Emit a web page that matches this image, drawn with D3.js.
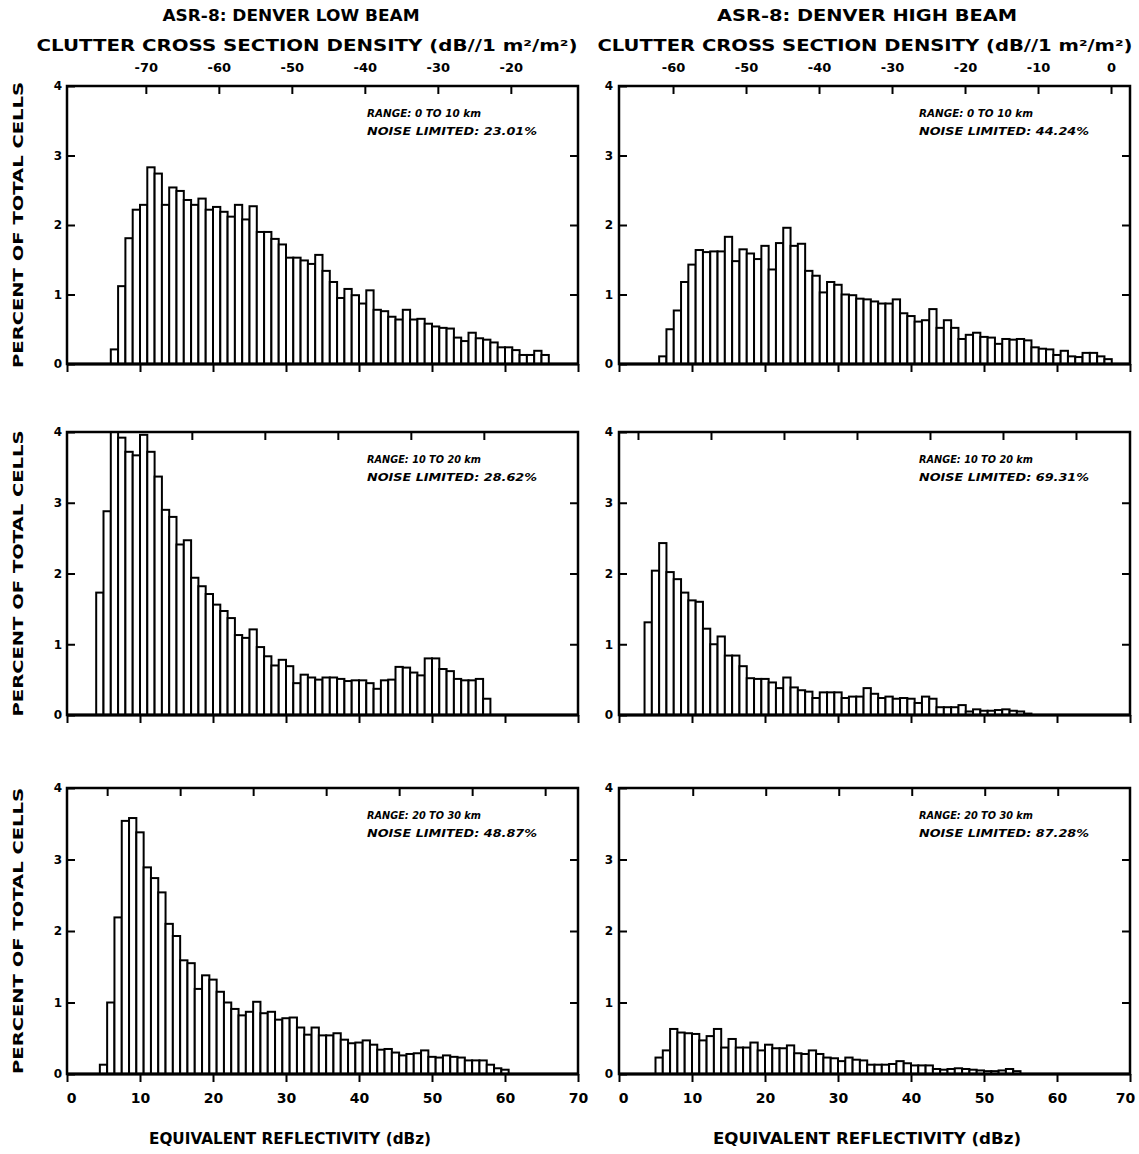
<!DOCTYPE html>
<html><head><meta charset="utf-8">
<script src="https://cdn.jsdelivr.net/npm/d3@7"></script>
<style>
body{margin:0;background:#fff}
text{font-family:"DejaVu Sans",sans-serif;font-weight:bold;fill:#000}
</style>
</head><body>
<svg id="c" width="1139" height="1154"></svg>
<script>
// ---------- DATA (percent of total cells per 1-dB bin of equivalent reflectivity, dBz) ----------
// Low beam
const low0to10 = [0.21,1.12,1.81,2.22,2.29,2.83,2.74,2.29,2.54,2.49,2.36,2.29,2.38,2.22,2.26,2.19,2.12,2.29,2.08,2.27,
  1.90,1.90,1.80,1.72,1.53,1.53,1.49,1.44,1.57,1.34,1.18,0.95,1.08,0.99,0.87,1.06,0.78,0.76,0.68,0.64,
  0.78,0.64,0.65,0.58,0.54,0.52,0.51,0.38,0.33,0.45,0.37,0.35,0.31,0.24,0.24,0.20,0.13,0.13,0.19,0.13];
const low10to20 = [1.73,2.88,4.00,3.92,3.72,3.67,3.96,3.72,3.37,2.90,2.80,2.41,2.47,1.94,1.82,1.71,1.56,1.47,1.37,1.13,
  1.09,1.21,0.96,0.83,0.70,0.78,0.69,0.45,0.57,0.53,0.50,0.53,0.53,0.51,0.48,0.49,0.49,0.45,0.37,0.49,
  0.50,0.68,0.67,0.60,0.56,0.80,0.80,0.65,0.62,0.51,0.49,0.49,0.51,0.23];
const low20to30 = [0.13,1.00,2.19,3.54,3.58,3.38,2.89,2.74,2.54,2.10,1.93,1.59,1.55,1.19,1.38,1.32,1.15,1.00,0.91,0.82,
  0.87,1.01,0.85,0.87,0.76,0.78,0.79,0.65,0.55,0.65,0.54,0.54,0.57,0.48,0.43,0.44,0.47,0.41,0.34,0.35,
  0.30,0.26,0.28,0.29,0.33,0.24,0.23,0.26,0.24,0.23,0.19,0.19,0.19,0.13,0.08,0.06];
// High beam
const high0to10 = [0.11,0.50,0.77,1.18,1.43,1.64,1.61,1.62,1.62,1.83,1.48,1.65,1.59,1.51,1.70,1.36,1.74,1.96,1.70,1.73,
  1.34,1.27,1.03,1.18,1.14,1.00,0.99,0.94,0.93,0.90,0.87,0.87,0.93,0.73,0.69,0.61,0.63,0.79,0.52,0.63,
  0.52,0.36,0.42,0.45,0.39,0.38,0.29,0.36,0.35,0.36,0.34,0.24,0.22,0.21,0.13,0.19,0.11,0.10,0.16,0.16,0.11,0.07];
const high10to20 = [1.31,2.04,2.43,2.02,1.92,1.73,1.62,1.60,1.22,1.00,1.11,0.84,0.84,0.69,0.52,0.51,0.51,0.46,0.38,0.53,
  0.39,0.35,0.33,0.24,0.32,0.32,0.32,0.24,0.26,0.26,0.38,0.30,0.24,0.26,0.23,0.24,0.23,0.17,0.26,0.23,
  0.11,0.11,0.11,0.14,0.05,0.08,0.06,0.06,0.07,0.08,0.06,0.05,0.02];
const high20to30 = [0.23,0.33,0.63,0.58,0.57,0.56,0.47,0.53,0.63,0.37,0.49,0.37,0.37,0.44,0.33,0.41,0.36,0.36,0.40,0.29,
  0.28,0.33,0.28,0.23,0.22,0.18,0.23,0.20,0.19,0.13,0.13,0.13,0.14,0.18,0.15,0.12,0.12,0.12,0.07,0.06,
  0.07,0.08,0.07,0.06,0.05,0.04,0.04,0.05,0.07,0.04];

// first bin edge (dBz) of each histogram
const lowBinStart  = [6, 4, 4.5];
const highBinStart = [5.5, 3.5, 5];

const rangeLabels = ["RANGE: 0 TO 10 km", "RANGE: 10 TO 20 km", "RANGE: 20 TO 30 km"];
const lowNoise  = ["NOISE LIMITED: 23.01%", "NOISE LIMITED: 28.62%", "NOISE LIMITED: 48.87%"];
const highNoise = ["NOISE LIMITED: 44.24%", "NOISE LIMITED: 69.31%", "NOISE LIMITED: 87.28%"];

// clutter cross-section density axis: sigma = dBz - offset
const lowSigmaOffset  = [80.8, 87.1, 95.5];
const highSigmaOffset = [67.4, 82.6, 90.1];
const lowSigmaTicks  = [[-70,-60,-50,-40,-30,-20], [-70,-60,-50,-40,-30], [-90,-80,-70,-60,-50,-40,-30]];
const highSigmaTicks = [[-60,-50,-40,-30,-20,-10,0], [-80,-70,-60,-50,-40,-30,-20], [-80,-70,-60,-50,-40,-30]];

const dbzTicks = [0,10,20,30,40,50,60,70];
const pctTicks = [0,1,2,3,4];
const columnTitles = ["ASR-8: DENVER LOW BEAM", "ASR-8: DENVER HIGH BEAM"];
const sigmaTitle = "CLUTTER CROSS SECTION DENSITY (dB//1 m\u00B2/m\u00B2)";
const yTitle = "PERCENT OF TOTAL CELLS";
const xTitle = "EQUIVALENT REFLECTIVITY (dBz)";

// ---------- LAYOUT ----------
const colX = [[67, 578], [619, 1130]];
const rowY = [[364, 86], [715, 432], [1074, 788]];

const panels = [];
[low0to10, low10to20, low20to30].forEach((v, r) => panels.push({values: v, start: lowBinStart[r], col: 0, row: r,
  range: rangeLabels[r], noise: lowNoise[r], off: lowSigmaOffset[r], sticks: lowSigmaTicks[r]}));
[high0to10, high10to20, high20to30].forEach((v, r) => panels.push({values: v, start: highBinStart[r], col: 1, row: r,
  range: rangeLabels[r], noise: highNoise[r], off: highSigmaOffset[r], sticks: highSigmaTicks[r]}));

const svg = d3.select("#c");

panels.forEach(p => {
  const x = d3.scaleLinear().domain([0, 70]).range(colX[p.col]);
  const y = d3.scaleLinear().domain([0, 4]).range(rowY[p.row]).clamp(true);
  const s = d3.scaleLinear().domain([-p.off, 70 - p.off]).range(colX[p.col]);
  const g = svg.append("g");

  // bars
  g.selectAll("rect.bar").data(p.values).join("rect").attr("class", "bar")
    .attr("x", (d, i) => x(p.start + i))
    .attr("width", (d, i) => x(p.start + i + 1) - x(p.start + i))
    .attr("y", d => y(d))
    .attr("height", d => y(0) - y(d))
    .attr("fill", "#fff").attr("stroke", "#000").attr("stroke-width", 2);

  // frame
  g.append("rect")
    .attr("x", x(0)).attr("y", y(4)).attr("width", x(70) - x(0)).attr("height", y(0) - y(4))
    .attr("fill", "none").attr("stroke", "#000").attr("stroke-width", 2.5);
  g.append("line").attr("x1", x(0)).attr("x2", x(70)).attr("y1", y(0)).attr("y2", y(0))
    .attr("stroke", "#000").attr("stroke-width", 3);

  const style = sel => {
    sel.select(".domain").remove();
    sel.selectAll(".tick line").attr("stroke", "#000").attr("stroke-width", 2);
    sel.selectAll("text").attr("fill", "#000");
  };

  // left & right percent axes (inward ticks)
  g.append("g").attr("transform", `translate(${x(0)},0)`)
    .call(d3.axisLeft(y).tickValues(pctTicks).tickSize(-8).tickPadding(p.col ? 6 : 5).tickFormat(d3.format("d")))
    .call(style).selectAll("text").attr("font-size", 12).attr("font-family", "DejaVu Sans").attr("font-weight", "bold");
  g.append("g").attr("transform", `translate(${x(70)},0)`)
    .call(d3.axisRight(y).tickValues(pctTicks.slice(1, 4)).tickSize(-8).tickFormat(""))
    .call(style);

  // bottom dBz axis (outward ticks), labels only on the last row
  const bx = g.append("g").attr("transform", `translate(0,${y(0)})`)
    .call(d3.axisBottom(x).tickValues(dbzTicks).tickSize(8).tickPadding(11)
      .tickFormat(p.row === 2 ? d3.format("d") : ""))
    .call(style);
  bx.selectAll("text").attr("font-size", 14).attr("font-family", "DejaVu Sans").attr("font-weight", "bold")
    .attr("dx", d => d === 0 ? 4 : (d === 70 && p.col === 1 ? -5 : 0));

  // top sigma axis (inward ticks), labels only on the first row
  g.append("g").attr("transform", `translate(0,${y(4)})`)
    .call(d3.axisTop(s).tickValues(p.sticks).tickSize(-8).tickPadding(14)
      .tickFormat(p.row === 0 ? (d => String(d)) : ""))
    .call(style).selectAll("text").attr("font-size", 13).attr("font-family", "DejaVu Sans").attr("font-weight", "bold");

  // annotations
  const ax = x(0) + 300, ay = y(4);
  g.append("text").attr("x", ax).attr("y", ay + 31).attr("font-size", 10.5).attr("font-style", "italic")
    .attr("textLength", 114).attr("lengthAdjust", "spacingAndGlyphs").text(p.range);
  g.append("text").attr("x", ax).attr("y", ay + 49).attr("font-size", 10.5).attr("font-style", "italic")
    .attr("textLength", 170).attr("lengthAdjust", "spacingAndGlyphs").text(p.noise);

  // y title on left column
  if (p.col === 0) {
    const cy = (y(0) + y(4)) / 2;
    g.append("text").attr("transform", `translate(23,${cy}) rotate(-90)`).attr("text-anchor", "middle")
      .attr("font-size", 14).attr("textLength", 286).attr("lengthAdjust", "spacingAndGlyphs").text(yTitle);
  }
});

// column titles
const titleCx1 = [291, 867], titleCx2 = [307, 865];
const title2Len = [541, 535];
columnTitles.forEach((t, c) => {
  svg.append("text").attr("x", titleCx1[c]).attr("y", 21).attr("text-anchor", "middle")
    .attr("font-size", 16).attr("textLength", c ? 300 : 257).attr("lengthAdjust", "spacingAndGlyphs").text(t);
  svg.append("text").attr("x", titleCx2[c]).attr("y", 51).attr("text-anchor", "middle")
    .attr("font-size", 16).attr("textLength", title2Len[c]).attr("lengthAdjust", "spacingAndGlyphs").text(sigmaTitle);
  svg.append("text").attr("x", [290, 867][c]).attr("y", 1144).attr("text-anchor", "middle")
    .attr("font-size", 15).attr("textLength", c ? 308 : 282).attr("lengthAdjust", "spacingAndGlyphs").text(xTitle);
});
</script>
</body></html>
